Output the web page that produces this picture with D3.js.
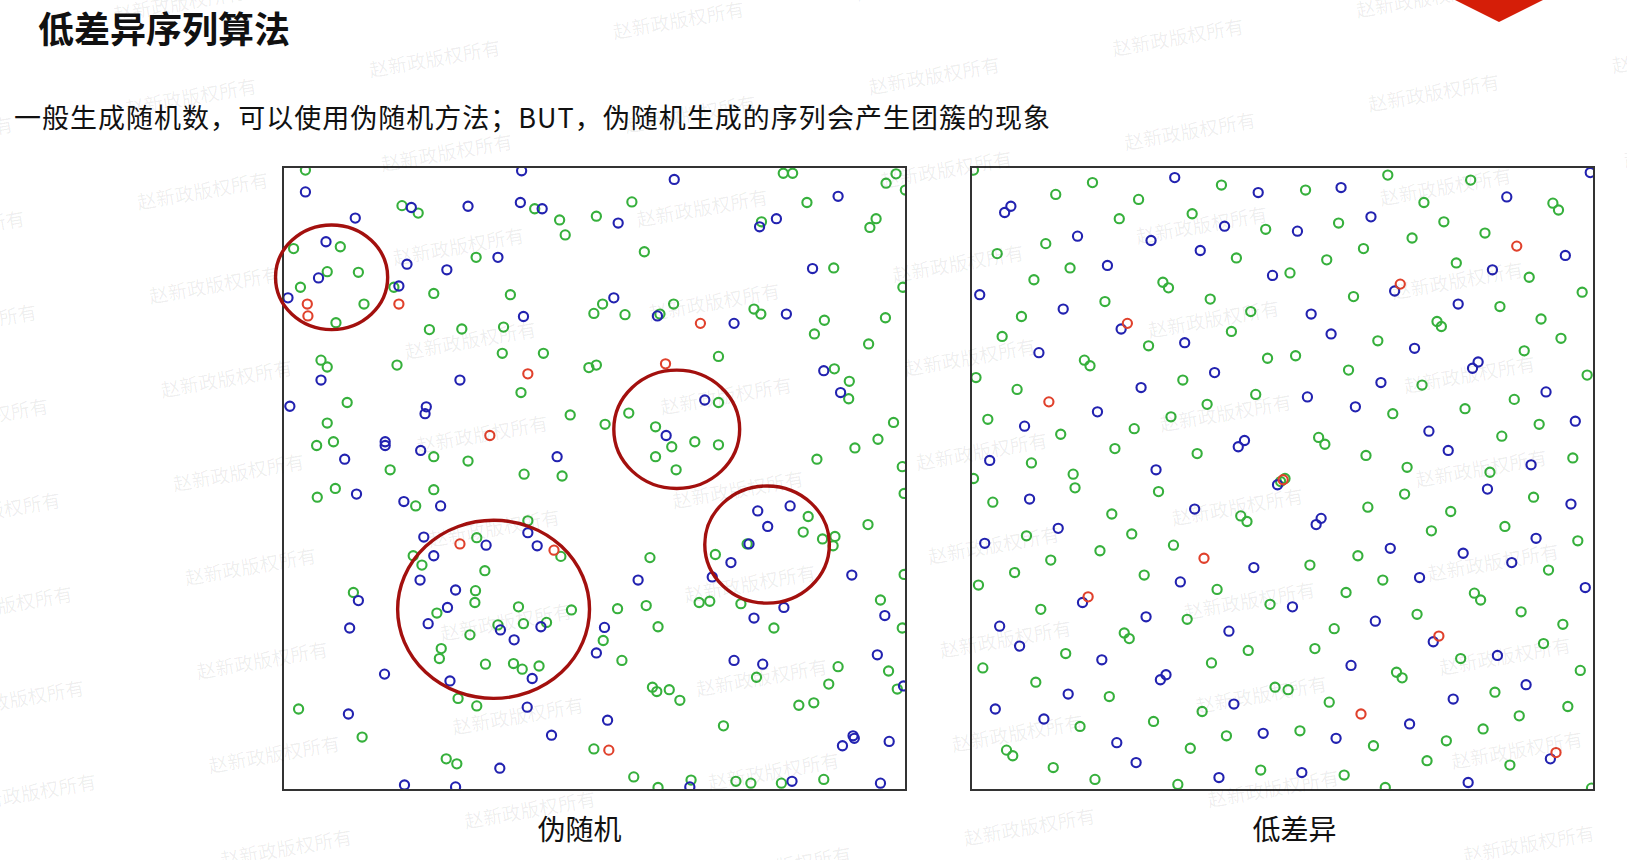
<!DOCTYPE html>
<html><head><meta charset="utf-8">
<script src="https://cdn.jsdelivr.net/npm/d3@7"></script>
<style>body{margin:0;background:#fff;} svg{display:block;}</style>
</head><body><svg id="c" width="1627" height="860"></svg>
<script>
// ---------- DATA (unit square) ----------
const pseudoGreen = [[0.036,0.995],[0.191,0.938],[0.217,0.926],[0.404,0.933],[0.444,0.915],[0.453,0.891],[0.503,0.921],[0.092,0.872],[0.017,0.869],[0.071,0.832],[0.121,0.831],[0.028,0.807],[0.130,0.780],[0.085,0.750],[0.178,0.807],[0.310,0.855],[0.242,0.797],[0.365,0.795],[0.499,0.765],[0.235,0.739],[0.287,0.740],[0.354,0.743],[0.061,0.690],[0.071,0.679],[0.183,0.682],[0.352,0.701],[0.418,0.701],[0.491,0.678],[0.503,0.682],[0.382,0.638],[0.103,0.622],[0.071,0.589],[0.461,0.602],[0.054,0.553],[0.081,0.559],[0.242,0.535],[0.297,0.528],[0.172,0.514],[0.387,0.507],[0.448,0.504],
[0.803,0.990],[0.818,0.990],[0.984,0.989],[0.968,0.974],[0.999,0.963],[0.560,0.944],[0.841,0.943],[0.768,0.912],[0.952,0.917],[0.942,0.903],[0.580,0.864],[0.884,0.838],[0.995,0.807],[0.513,0.780],[0.549,0.763],[0.605,0.764],[0.627,0.780],[0.756,0.772],[0.767,0.764],[0.869,0.754],[0.853,0.732],[0.967,0.758],[0.940,0.716],[0.699,0.696],[0.885,0.676],[0.909,0.656],[0.908,0.628],[0.699,0.622],[0.555,0.605],[0.517,0.587],[0.598,0.583],[0.624,0.551],[0.661,0.559],[0.699,0.554],[0.598,0.535],[0.631,0.514],[0.980,0.590],[0.955,0.563],[0.918,0.549],[0.857,0.531],[0.994,0.519],
[0.055,0.470],[0.084,0.484],[0.213,0.456],[0.242,0.482],[0.393,0.432],[0.311,0.405],[0.446,0.375],[0.209,0.376],[0.223,0.361],[0.324,0.352],[0.309,0.320],[0.308,0.301],[0.113,0.317],[0.247,0.284],[0.378,0.294],[0.463,0.289],[0.386,0.267],[0.345,0.265],[0.423,0.269],[0.300,0.249],[0.254,0.227],[0.251,0.211],[0.325,0.202],[0.370,0.203],[0.384,0.194],[0.411,0.199],[0.281,0.147],[0.311,0.135],[0.025,0.130],[0.127,0.085],[0.262,0.050],[0.279,0.042],[0.499,0.066],
[0.843,0.439],[0.835,0.414],[0.866,0.403],[0.886,0.407],[0.883,0.392],[0.939,0.426],[0.745,0.395],[0.694,0.378],[0.589,0.373],[0.997,0.346],[0.997,0.476],[0.668,0.301],[0.685,0.303],[0.735,0.299],[0.788,0.260],[0.537,0.291],[0.583,0.296],[0.602,0.262],[0.514,0.240],[0.544,0.208],[0.959,0.305],[0.994,0.260],[0.760,0.181],[0.891,0.198],[0.876,0.170],[0.972,0.191],[0.986,0.162],[0.593,0.165],[0.600,0.158],[0.620,0.161],[0.637,0.144],[0.828,0.136],[0.852,0.140],[0.707,0.103],[0.563,0.021],[0.602,0.004],[0.655,0.016],[0.727,0.014],[0.751,0.011],[0.800,0.011],[0.868,0.017]];
const pseudoBlue = [[0.036,0.960],[0.116,0.918],[0.206,0.935],[0.297,0.937],[0.381,0.943],[0.416,0.933],[0.383,0.994],[0.069,0.880],[0.057,0.822],[0.008,0.790],[0.199,0.844],[0.186,0.809],[0.263,0.835],[0.345,0.855],[0.386,0.760],[0.061,0.658],[0.284,0.658],[0.011,0.616],[0.230,0.615],[0.228,0.604],[0.164,0.559],[0.164,0.553],[0.221,0.545],[0.099,0.531],[0.440,0.535],
[0.628,0.980],[0.891,0.953],[0.538,0.910],[0.765,0.904],[0.792,0.917],[0.850,0.837],[0.531,0.790],[0.601,0.761],[0.724,0.749],[0.808,0.764],[0.868,0.673],[0.895,0.638],[0.677,0.626],[0.615,0.569],
[0.118,0.475],[0.194,0.463],[0.253,0.456],[0.226,0.406],[0.326,0.393],[0.393,0.413],[0.408,0.392],[0.242,0.376],[0.220,0.337],[0.277,0.321],[0.121,0.304],[0.264,0.293],[0.233,0.267],[0.349,0.257],[0.414,0.262],[0.371,0.241],[0.107,0.260],[0.400,0.179],[0.268,0.175],[0.163,0.186],[0.392,0.133],[0.105,0.122],[0.431,0.088],[0.348,0.035],[0.195,0.008],[0.277,0.005],[0.503,0.220],
[0.814,0.456],[0.762,0.448],[0.778,0.423],[0.748,0.395],[0.719,0.365],[0.689,0.342],[0.570,0.337],[0.913,0.345],[0.804,0.293],[0.756,0.276],[0.516,0.261],[0.966,0.280],[0.724,0.208],[0.770,0.202],[0.954,0.217],[0.996,0.167],[0.521,0.112],[0.915,0.087],[0.917,0.083],[0.898,0.071],[0.973,0.078],[0.653,0.005],[0.817,0.014],[0.959,0.011]];
const pseudoRed = [[0.039,0.780],[0.040,0.761],[0.186,0.780],[0.393,0.668],[0.332,0.569],[0.670,0.749],[0.614,0.684],[0.284,0.395],[0.435,0.385],[0.523,0.064]];
// highlighted clusters: [cx, cy, rx, ry]
const pseudoClusters = [[0.078,0.823,0.090,0.084],[0.632,0.579,0.101,0.095],[0.338,0.290,0.154,0.143],[0.777,0.394,0.100,0.094]];

const lowGreen = [[0.004,0.995],[0.195,0.975],[0.402,0.971],[0.136,0.956],[0.269,0.948],[0.238,0.917],[0.355,0.925],[0.473,0.900],[0.120,0.877],[0.042,0.861],[0.426,0.854],[0.159,0.838],[0.101,0.819],[0.308,0.815],[0.317,0.806],[0.215,0.784],[0.384,0.788],[0.449,0.768],[0.081,0.760],[0.418,0.736],[0.050,0.728],[0.285,0.713],[0.182,0.690],[0.191,0.681],[0.476,0.693],[0.008,0.662],[0.340,0.658],[0.074,0.643],[0.457,0.635],[0.379,0.619],[0.027,0.595],[0.321,0.599],[0.144,0.571],[0.262,0.580],[0.231,0.548],[0.363,0.540],[0.097,0.525],[0.164,0.507],[0.004,0.500],
[0.669,0.987],[0.802,0.979],[0.537,0.963],[0.727,0.943],[0.934,0.942],[0.943,0.931],[0.590,0.910],[0.759,0.912],[0.708,0.886],[0.825,0.894],[0.630,0.869],[0.571,0.851],[0.779,0.846],[0.512,0.830],[0.896,0.823],[0.614,0.792],[0.981,0.799],[0.849,0.776],[0.748,0.752],[0.755,0.744],[0.915,0.756],[0.653,0.721],[0.947,0.725],[0.521,0.697],[0.888,0.705],[0.606,0.674],[0.989,0.666],[0.724,0.650],[0.872,0.627],[0.677,0.604],[0.793,0.612],[0.912,0.587],[0.852,0.568],[0.558,0.566],[0.568,0.555],[0.634,0.537],[0.966,0.533],[0.700,0.518],[0.833,0.510],
[0.167,0.485],[0.301,0.479],[0.035,0.462],[0.226,0.443],[0.433,0.440],[0.443,0.431],[0.089,0.408],[0.258,0.411],[0.207,0.384],[0.325,0.393],[0.128,0.369],[0.070,0.349],[0.278,0.345],[0.012,0.329],[0.395,0.322],[0.112,0.290],[0.480,0.298],[0.347,0.274],[0.246,0.252],[0.254,0.243],[0.152,0.219],[0.445,0.224],[0.019,0.196],[0.386,0.204],[0.104,0.173],[0.488,0.165],[0.222,0.150],[0.371,0.126],[0.175,0.102],[0.293,0.110],[0.410,0.087],[0.352,0.067],[0.057,0.064],[0.067,0.055],[0.132,0.036],[0.465,0.032],[0.199,0.017],[0.332,0.009],
[0.696,0.475],[0.903,0.470],[0.637,0.454],[0.770,0.447],[0.739,0.416],[0.857,0.423],[0.974,0.400],[0.621,0.376],[0.544,0.361],[0.927,0.353],[0.661,0.337],[0.602,0.317],[0.808,0.316],[0.818,0.305],[0.716,0.282],[0.883,0.286],[0.950,0.266],[0.583,0.259],[0.919,0.235],[0.552,0.227],[0.786,0.211],[0.683,0.189],[0.692,0.180],[0.978,0.192],[0.509,0.161],[0.841,0.157],[0.575,0.141],[0.958,0.134],[0.880,0.119],[0.528,0.095],[0.822,0.098],[0.646,0.071],[0.763,0.079],[0.732,0.047],[0.865,0.040],[0.599,0.024],[0.665,0.004],[0.996,0.003],
[0.497,0.495],[0.504,0.500]];
const lowBlue = [[0.327,0.983],[0.461,0.959],[0.064,0.937],[0.054,0.927],[0.407,0.905],[0.171,0.889],[0.289,0.882],[0.368,0.866],[0.219,0.842],[0.484,0.826],[0.014,0.795],[0.148,0.772],[0.241,0.740],[0.343,0.718],[0.109,0.702],[0.391,0.670],[0.273,0.646],[0.203,0.607],[0.086,0.584],[0.439,0.561],[0.429,0.551],[0.030,0.529],[0.297,0.514],
[0.994,0.991],[0.594,0.967],[0.860,0.952],[0.642,0.920],[0.524,0.897],[0.954,0.858],[0.837,0.835],[0.680,0.801],[0.782,0.780],[0.546,0.764],[0.578,0.732],[0.712,0.709],[0.814,0.687],[0.805,0.677],[0.658,0.654],[0.540,0.631],[0.923,0.639],[0.617,0.615],[0.970,0.592],[0.735,0.576],[0.766,0.545],[0.899,0.522],
[0.094,0.467],[0.359,0.451],[0.140,0.420],[0.022,0.396],[0.454,0.357],[0.336,0.334],[0.179,0.301],[0.281,0.278],[0.046,0.263],[0.414,0.255],[0.078,0.231],[0.210,0.209],[0.313,0.185],[0.304,0.177],[0.156,0.154],[0.039,0.130],[0.422,0.138],[0.117,0.114],[0.469,0.091],[0.234,0.076],[0.265,0.044],[0.398,0.020],
[0.829,0.483],[0.963,0.459],[0.562,0.436],[0.554,0.426],[0.907,0.404],[0.673,0.388],[0.790,0.380],[0.868,0.365],[0.720,0.341],[0.986,0.325],[0.516,0.294],[0.649,0.271],[0.742,0.238],[0.845,0.216],[0.610,0.200],[0.891,0.169],[0.774,0.146],[0.704,0.106],[0.586,0.083],[0.930,0.050],[0.531,0.028],[0.798,0.012],
[0.492,0.490]];
const lowRed = [[0.251,0.749],[0.125,0.623],[0.876,0.873],[0.689,0.812],[0.374,0.372],[0.188,0.310],[0.751,0.247],[0.626,0.122],[0.939,0.060],[0.501,0.498]];

const titleText = "低差异序列算法";
const subtitleText = "一般生成随机数，可以使用伪随机方法；BUT，伪随机生成的序列会产生团簇的现象";
const panelLabels = ["伪随机", "低差异"];
const watermarkText = "赵新政版权所有";

// ---------- DRAWING ----------
const svg = d3.select("#c");
const FONT = "'Noto Sans CJK SC','Noto Sans',sans-serif";
const COLORS = {green:"#36b03c", blue:"#2222b0", red:"#e0412c", ring:"#a3100e", frame:"#333"};
const SIZE = 623;
const x = d3.scaleLinear().domain([0,1]).range([0,SIZE]);
const y = d3.scaleLinear().domain([0,1]).range([SIZE,0]);

// red chevron at top right
svg.append("polygon").attr("points","1451,-2 1547,-2 1499,22").attr("fill","#d51e08");

svg.append("text").attr("x",38).attr("y",43).attr("font-family",FONT)
  .attr("font-size",36).attr("font-weight",700).attr("fill","#111").text(titleText);
svg.append("text").attr("x",14).attr("y",128).attr("font-family",FONT)
  .attr("font-size",27).attr("fill","#111")
  .attr("textLength",1036).attr("lengthAdjust","spacing").text(subtitleText);

const panels = [
  {id:"p0", left:283, top:167, green:pseudoGreen, blue:pseudoBlue, red:pseudoRed, clusters:pseudoClusters, label:panelLabels[0], labelX:579.5},
  {id:"p1", left:971, top:167, green:lowGreen, blue:lowBlue, red:lowRed, clusters:[], label:panelLabels[1], labelX:1294.5}
];

const defs = svg.append("defs");
panels.forEach(p => {
  defs.append("clipPath").attr("id","clip-"+p.id)
    .append("rect").attr("x",0).attr("y",0).attr("width",SIZE).attr("height",SIZE);
  const g = svg.append("g").attr("transform",`translate(${p.left},${p.top})`);
  const pts = g.append("g").attr("clip-path",`url(#clip-${p.id})`);
  [["green",p.green],["blue",p.blue],["red",p.red]].forEach(([c,arr]) => {
    pts.selectAll(null).data(arr).enter().append("circle")
      .attr("cx",d=>x(d[0])).attr("cy",d=>y(d[1])).attr("r",4.6)
      .attr("fill","none").attr("stroke",COLORS[c]).attr("stroke-width",2.1);
  });
  g.append("rect").attr("x",0).attr("y",0).attr("width",SIZE).attr("height",SIZE)
    .attr("fill","none").attr("stroke",COLORS.frame).attr("stroke-width",2);
  g.selectAll(null).data(p.clusters).enter().append("ellipse")
    .attr("cx",d=>x(d[0])).attr("cy",d=>y(d[1]))
    .attr("rx",d=>x(d[2])-x(0)).attr("ry",d=>y(0)-y(d[3]))
    .attr("fill","none").attr("stroke",COLORS.ring).attr("stroke-width",3.4);
  svg.append("text").attr("x",p.labelX).attr("y",840).attr("text-anchor","middle")
    .attr("font-family",FONT).attr("font-size",28).attr("fill","#111").text(p.label);
});

// faint watermark lattice
const wm = svg.append("g").attr("fill","#000").attr("fill-opacity",0.07)
  .attr("font-family",FONT).attr("font-size",19);
const base=[458.6,247], v1=[11.9,93.9], v2=[243.8,-38.4];
for (let i=-6;i<=12;i++) for (let j=-4;j<=8;j++) {
  const cx = base[0]+i*v1[0]+j*v2[0], cy = base[1]+i*v1[1]+j*v2[1];
  if (cx<-90||cx>1720||cy<-20||cy>885) continue;
  wm.append("text").attr("text-anchor","middle")
    .attr("transform",`translate(${cx.toFixed(1)},${cy.toFixed(1)}) rotate(-10)`)
    .attr("dy","0.35em").text(watermarkText);
}
</script></body></html>
